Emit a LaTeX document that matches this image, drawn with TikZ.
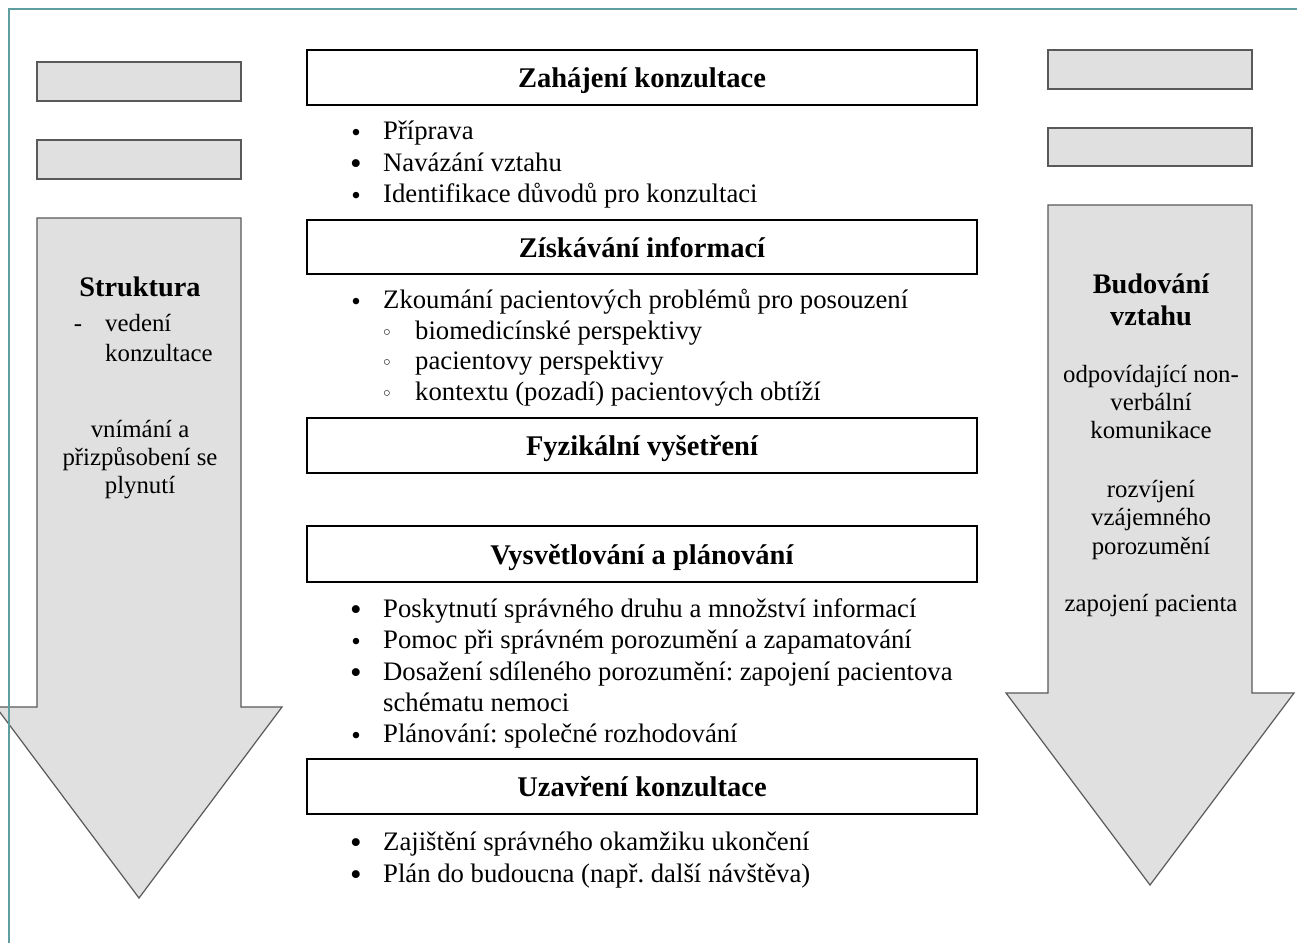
\documentclass[tikz,border=0pt]{standalone}
\usepackage{fontspec}
\setmainfont{Liberation Serif}
\newfontfamily\symfont{DejaVu Sans}
\definecolor{frameteal}{HTML}{5F9EA0}
\definecolor{arrowgrey}{HTML}{E0E0E0}
\frenchspacing
\begin{document}
\begin{tikzpicture}[x=1pt,y=-1pt,
  stage/.style={draw=black, line width=2.4pt, fill=white, minimum width=670pt,
    inner sep=0pt, font=\fontsize{28.5}{34}\selectfont\bfseries,
    text height=22pt, text depth=2pt},
  greyshape/.style={draw=black!65, line width=1.2pt, fill=arrowgrey},
  item/.style={anchor=base west, inner sep=0pt, font=\fontsize{26.7}{31}\selectfont},
  bul/.style={anchor=base, inner sep=0pt, yshift=-2pt, font=\fontsize{27}{30}\selectfont},
  bigbul/.style={anchor=base, inner sep=0pt, yshift=-3pt, font=\fontsize{33}{36}\selectfont},
  subbul/.style={anchor=base, inner sep=0pt, font=\fontsize{19}{22}\selectfont\symfont},
  side/.style={anchor=base, inner sep=0pt, font=\fontsize{24.8}{28}\selectfont},
  sidehead/.style={anchor=base, inner sep=0pt, font=\fontsize{28.3}{32}\selectfont\bfseries},
  sideleft/.style={anchor=base west, inner sep=0pt, font=\fontsize{24.8}{28}\selectfont}]
\useasboundingbox (0,0) rectangle (1304,943);
\clip (0,0) rectangle (1304,943);
\fill[white] (0,0) rectangle (1304,943);

% left column
\draw[greyshape] (37,62) rectangle (241,101);
\draw[greyshape] (37,140) rectangle (241,179);
\draw[greyshape] (37,218) -- (241,218) -- (241,707) -- (282,707) -- (139,898) -- (-4,707) -- (37,707) -- cycle;

% right column
\draw[greyshape] (1048,50) rectangle (1252,89);
\draw[greyshape] (1048,128) rectangle (1252,166);
\draw[greyshape] (1048,205) -- (1252,205) -- (1252,693) -- (1294,693) -- (1150,885) -- (1006,693) -- (1048,693) -- cycle;

% left arrow text
\node[sidehead] (lhead) at (140,296) {Struktura};
\node[side] (ldash) at (78,331) {-};
\node[sideleft] (lvedeni) at (105,331) {vedení};
\node[sideleft] (lkonz) at (105,361) {konzultace};
\node[side] (lvn1) at (140,437) {vnímání a};
\node[side] (lvn2) at (140,465) {přizpůsobení se};
\node[side] (lvn3) at (140,493) {plynutí};

% right arrow text
\node[sidehead] (rhead1) at (1151,293) {Budování};
\node[sidehead] (rhead2) at (1151,325) {vztahu};
\node[side] (r1) at (1151,382) {odpovídající non-};
\node[side] (r2) at (1151,410) {verbální};
\node[side] (r3) at (1151,438) {komunikace};
\node[side] (r4) at (1151,497) {rozvíjení};
\node[side] (r5) at (1151,525) {vzájemného};
\node[side] (r6) at (1151,554) {porozumění};
\node[side] (r7) at (1151,611) {zapojení pacienta};

% stages
\node[stage, minimum height=55pt] (s1) at (642,77.5) {Zahájení konzultace};
\node[stage, minimum height=54pt] (s2) at (642,247) {Získávání informací};
\node[stage, minimum height=55pt] (s3) at (642,445.5) {Fyzikální vyšetření};
\node[stage, minimum height=56pt] (s4) at (642,554) {Vysvětlování a plánování};
\node[stage, minimum height=55pt] (s5) at (642,786.5) {Uzavření konzultace};

% list 1
\node[bul] (b11) at (356,139) {•};
\node[item] (t11) at (383,139) {Příprava};
\node[bigbul] (b12) at (356,171) {•};
\node[item] (t12) at (383,171) {Navázání vztahu};
\node[bul] (b13) at (356,202) {•};
\node[item] (t13) at (383,202) {Identifikace důvodů pro konzultaci};

% list 2
\node[bul] (b21) at (356,308) {•};
\node[item] (t21) at (383,308) {Zkoumání pacientových problémů pro posouzení};
\node[subbul] (b22) at (387,339) {◦};
\node[item] (t22) at (415,339) {biomedicínské perspektivy};
\node[subbul] (b23) at (387,369) {◦};
\node[item] (t23) at (415,369) {pacientovy perspektivy};
\node[subbul] (b24) at (387,400) {◦};
\node[item] (t24) at (415,400) {kontextu (pozadí) pacientových obtíží};

% list 4
\node[bigbul] (b41) at (356,617) {•};
\node[item] (t41) at (383,617) {Poskytnutí správného druhu a množství informací};
\node[bul] (b42) at (356,648) {•};
\node[item] (t42) at (383,648) {Pomoc při správném porozumění a zapamatování};
\node[bigbul] (b43) at (356,680) {•};
\node[item] (t43) at (383,680) {Dosažení sdíleného porozumění: zapojení pacientova};
\node[item] (t43b) at (383,711) {schématu nemoci};
\node[bul] (b44) at (356,742) {•};
\node[item] (t44) at (383,742) {Plánování: společné rozhodování};

% list 5
\node[bigbul] (b51) at (356,850) {•};
\node[item] (t51) at (383,850) {Zajištění správného okamžiku ukončení};
\node[bigbul] (b52) at (356,882) {•};
\node[item] (t52) at (383,882) {Plán do budoucna (např. další návštěva)};

% frame
\draw[frameteal, line width=2pt] (9,943) -- (9,9) -- (1297,9);
\end{tikzpicture}
\end{document}
